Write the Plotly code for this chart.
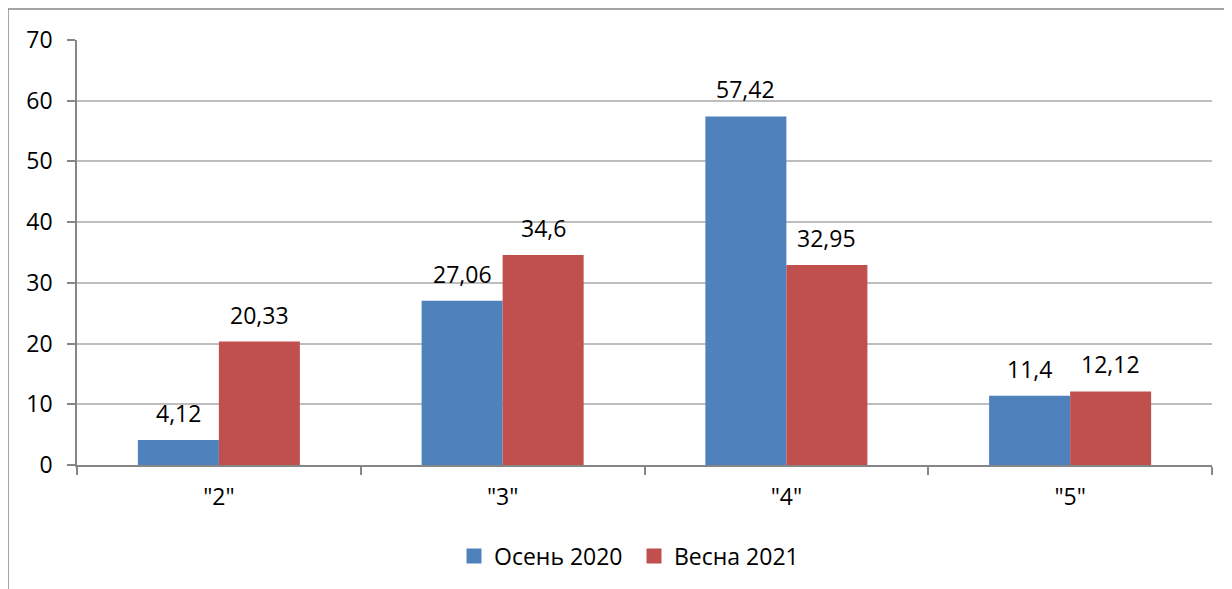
import plotly.graph_objects as go

categories = ['"2"', '"3"', '"4"', '"5"']
autumn_2020 = [4.12, 27.06, 57.42, 11.4]
spring_2021 = [20.33, 34.6, 32.95, 12.12]
series_names = ["Осень 2020", "Весна 2021"]
y_ticks = [0, 10, 20, 30, 40, 50, 60, 70]

BLUE = "#4F81BD"
RED = "#C0504D"
AXIS = "#868686"
GRID = "#BEBEBE"
FONT = "Open Sans"

OFF = 8  # page body margin
W, H = 1232, 589
# target plot area in window px: x 77..1212, y 40..465
L, T = 77 - OFF, 40 - OFF
R = (W + OFF) - 1212
B = (H + OFF) - 465
pw, ph = W - L - R, H - T - B
X0, Y1 = 77, 465  # window px of plot area left / bottom

def fmt(v):
    return ("%g" % v).replace(".", ",")

fig = go.Figure()
for name, vals, col in [(series_names[0], autumn_2020, BLUE), (series_names[1], spring_2021, RED)]:
    fig.add_trace(go.Bar(x=categories, y=vals, name=name, marker=dict(color=col, line=dict(width=0)),
                         showlegend=False))
    fig.add_trace(go.Scatter(x=[None], y=[None], mode="markers", name=name,
                             marker=dict(symbol="square", size=15, color=col)))

annotations = []
for vals, shift in [(autumn_2020, -40.5), (spring_2021, 40.5)]:
    for c, v in zip(categories, vals):
        annotations.append(dict(x=c, y=v, xref="x", yref="y", text=fmt(v), showarrow=False,
                                xshift=shift, yshift=27, yanchor="middle",
                                font=dict(family=FONT, size=23, color="#000")))

px = lambda p: (p - X0) / pw
py = lambda p: (Y1 - p) / ph
shapes = [dict(type="rect", xref="paper", yref="paper", x0=px(8), x1=px(1260), y0=py(9), y1=py(620),
               line=dict(color=AXIS, width=1.5), layer="below")]

fig.update_layout(
    width=W, height=H,
    margin=dict(l=L, r=R, t=T, b=B, autoexpand=False),
    paper_bgcolor="white", plot_bgcolor="white",
    barmode="group", bargap=0.429, bargroupgap=0,
    font=dict(family=FONT, color="#000"),
    annotations=annotations, shapes=shapes,
    legend=dict(orientation="h", x=px(634), y=py(556), xanchor="center", yanchor="middle",
                font=dict(family=FONT, size=23, color="#000"), itemwidth=30,
                entrywidth=135, entrywidthmode="pixels",
                bgcolor="rgba(0,0,0,0)"),
    xaxis=dict(showgrid=False, showline=True, linecolor=AXIS, linewidth=1.5,
               ticks="outside", ticklen=8, tickcolor=AXIS, tickwidth=1.5, tickson="boundaries",
               tickfont=dict(family=FONT, size=23, color="#000"), ticklabelstandoff=11),
    yaxis=dict(range=[0, 70], tickvals=y_ticks, showgrid=True, gridcolor=GRID, gridwidth=1.5,
               showline=True, linecolor=AXIS, linewidth=1.5, ticks="outside", ticklen=8,
               tickcolor=AXIS, tickwidth=1.5, zeroline=False,
               tickfont=dict(family=FONT, size=23, color="#000"), ticklabelstandoff=10),
)

fig.write_html("out.html")
